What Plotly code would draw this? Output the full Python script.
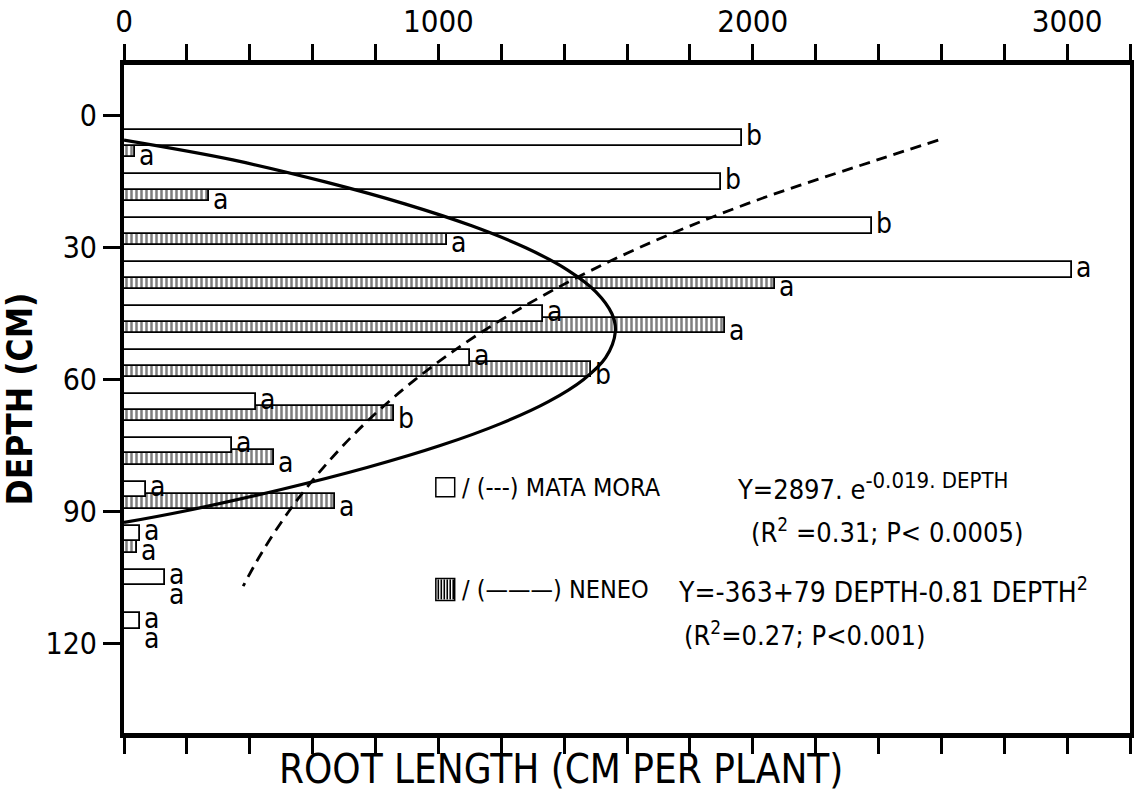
import plotly.graph_objects as go

# ---------------- data ----------------
depth_start = [0, 10, 20, 30, 40, 50, 60, 70, 80, 90, 100, 110]
mata_mora = [1965, 1900, 2380, 3016, 1333, 1102, 420, 344, 70, 50, 130, 50]
neneo = [35, 271, 1029, 2072, 1911, 1484, 859, 477, 670, 40, 0, 0]
mata_letters = ["b", "b", "b", "a", "a", "a", "a", "a", "a", "a", "a", "a"]
neneo_letters = ["a", "a", "a", "a", "a", "b", "b", "a", "a", "a", "a", "a"]

# fitted curves
mm_fit_depth = [5.5, 10, 20, 30, 40, 50, 60, 70, 80, 90, 100, 107]
mm_fit_len = [2590, 2396, 1981, 1638, 1355, 1120, 926, 766, 634, 524, 433, 379]
ne_fit_depth = [5.5, 10, 15, 20, 25, 30, 35, 40, 45, 49, 55, 60, 65, 70, 75, 80, 85, 90, 92.5]
ne_fit_len = [0, 346, 640, 893, 1106, 1278, 1410, 1501, 1552, 1563, 1532, 1461, 1350, 1198, 1006, 773, 500, 186, 0]

x_major = [0, 1000, 2000, 3000]
x_labels = ["0", "1000", "2000", "3000"]
y_tickvals = [0, 30, 60, 90, 120]

FONT = "DejaVu Sans Condensed, Liberation Sans Narrow, sans-serif"

# ---------------- geometry helpers ----------------
W, H = 1137, 794
L, R, T, B = 121, 3, 63, 61
PW, PH = W - L - R, H - T - B


def px(x):
    return (x - L) / PW


def py(y):
    return (H - B - y) / PH


fig = go.Figure()

# hatched bars (Neneo) – behind
fig.add_trace(go.Bar(
    x=neneo, y=[d + 7.7 for d in depth_start], orientation="h", width=3.4,
    marker=dict(color="white", line=dict(color="black", width=1.8),
                pattern=dict(shape="|", fgcolor="black", bgcolor="white", size=5, solidity=0.5)),
    showlegend=False, name="NENEO"))
# open bars (Mata Mora) – front
fig.add_trace(go.Bar(
    x=mata_mora, y=[d + 5.0 for d in depth_start], orientation="h", width=3.6,
    marker=dict(color="white", line=dict(color="black", width=1.8)),
    showlegend=False, name="MATA MORA"))

# fitted curves
fig.add_trace(go.Scatter(x=ne_fit_len, y=ne_fit_depth, mode="lines", line_shape="spline",
                         line=dict(color="black", width=3.2), showlegend=False, hoverinfo="skip"))
fig.add_trace(go.Scatter(x=mm_fit_len, y=mm_fit_depth, mode="lines", line_shape="spline",
                         line=dict(color="black", width=2.8, dash="11px,7px"), showlegend=False,
                         hoverinfo="skip"))

LET = dict(family=FONT, size=28, color="black")
annotations = []
for d, v, t in zip(depth_start, mata_mora, mata_letters):
    annotations.append(dict(x=v, y=d + 4.4, xref="x", yref="y", text=t, showarrow=False,
                            xanchor="left", yanchor="middle", xshift=2, font=LET))
for d, v, m, t in zip(depth_start, neneo, mata_mora, neneo_letters):
    xv = v if v > 0 else m
    annotations.append(dict(x=xv, y=d + 8.9, xref="x", yref="y", text=t, showarrow=False,
                            xanchor="left", yanchor="middle", xshift=2, font=LET))


def lab(x, y, text, size):
    return dict(x=px(x), y=py(y), xref="paper", yref="paper", text=text, showarrow=False,
                xanchor="left", yanchor="middle", font=dict(family=FONT, size=size, color="black"))


annotations += [
    lab(459, 487, "/ (---) MATA MORA", 25),
    lab(736, 486, "Y=2897. e<sup><span style='font-size:22px'>-0.019. DEPTH</span></sup>", 27),
    lab(750, 530, "(R<sup>2</sup> =0.31; P< 0.0005)", 27),
    lab(459, 589, "/ (\u2014\u2014\u2014) NENEO", 25),
    lab(677, 590, "Y=-363+79 DEPTH-0.81 DEPTH<sup>2</sup>", 28),
    lab(683, 633, "(R<sup>2</sup>=0.27; P<0.001)", 27),
    dict(x=px(561), y=py(769), xref="paper", yref="paper",
         text="ROOT LENGTH (CM PER PLANT)", showarrow=False,
         xanchor="center", yanchor="middle", font=dict(family=FONT, size=40, color="black")),
]

shapes = [
    dict(type="rect", xref="paper", yref="paper", x0=px(435), x1=px(454), y0=py(496), y1=py(477),
         line=dict(color="black", width=1.5), fillcolor="white"),
    dict(type="rect", xref="paper", yref="paper", x0=px(435), x1=px(454), y0=py(600), y1=py(578),
         line=dict(color="black", width=1.5), fillcolor="white"),
]
for i in range(6):
    xx = 437.5 + i * 3
    shapes.append(dict(type="line", xref="paper", yref="paper", x0=px(xx), x1=px(xx),
                       y0=py(599), y1=py(579), line=dict(color="black", width=1.6)))

fig.update_layout(
    width=W, height=H, margin=dict(l=L, r=R, t=T, b=B), autosize=False,
    paper_bgcolor="white", plot_bgcolor="white",
    barmode="overlay", bargap=0,
    font=dict(family=FONT, color="black"),
    annotations=annotations, shapes=shapes,
    xaxis=dict(range=[0, 3200], side="top", tickvals=x_major, ticktext=x_labels,
               ticks="outside", ticklen=16, tickwidth=2.5, tickcolor="black",
               minor=dict(dtick=200, tick0=0, ticks="outside", ticklen=16, tickwidth=2.5,
                          tickcolor="black", showgrid=False),
               showline=True, linewidth=4.5, linecolor="black", mirror="ticks",
               showgrid=False, zeroline=False, tickfont=dict(family=FONT, size=31)),
    yaxis=dict(range=[140.4, -11.6], tickvals=y_tickvals, ticks="outside", ticklen=17,
               tickwidth=3, tickcolor="black", showline=True, linewidth=4, linecolor="black",
               mirror=True, showgrid=False, zeroline=False,
               tickfont=dict(family=FONT, size=30),
               title=dict(text="<b>DEPTH (CM)</b>", font=dict(family=FONT, size=35), standoff=18)),
)

fig.write_html("out.html", config={"displayModeBar": False},
               post_script="document.body.style.margin='0';document.body.style.overflow='hidden';")
